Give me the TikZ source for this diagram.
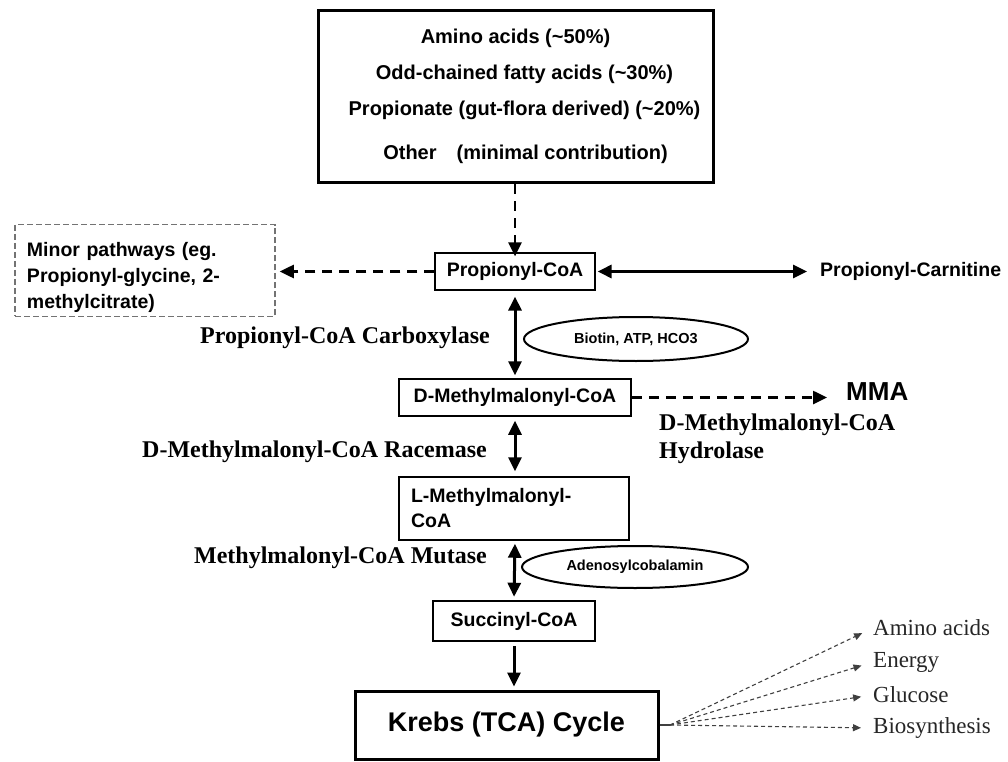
\documentclass[tikz,border=0pt]{standalone}
\usepackage{fontspec}
\setmainfont{Liberation Serif}
\setsansfont{Liberation Sans}
\usetikzlibrary{arrows.meta}
\usetikzlibrary{shapes.geometric}

\newcommand{\boxfont}{\sffamily\bfseries\fontsize{19.5}{25}\selectfont}
\newcommand{\enzfont}{\rmfamily\bfseries\fontsize{24}{28}\selectfont}

\begin{document}
\begin{tikzpicture}[x=1pt, y=-1pt, >={Triangle[length=14pt, width=13pt]},
        pbox/.style={draw, line width=1.5pt, font=\boxfont, inner sep=0pt,
            minimum height=37pt},
        enzyme/.style={font=\enzfont, inner sep=0pt},
        cofactor/.style={ellipse, draw, line width=2pt, inner sep=0pt,
            font=\sffamily\bfseries\fontsize{14.5}{17}\selectfont},
        mainarrow/.style={line width=3pt},
        dasharrow/.style={line width=2.5pt, dash pattern=on 10pt off 7pt},
        fanarrow/.style={->, line width=1.1pt, draw=black!75,
            dash pattern=on 4pt off 3pt, >={Triangle[length=8pt, width=7pt]}},
        product/.style={font=\rmfamily\fontsize{23}{27}\selectfont, text=black!85,
            anchor=west, inner sep=0pt}]
    \useasboundingbox (0, 0) rectangle (1008, 762);

    % sources of propionyl-CoA
    \node[draw, line width=3pt, font=\sffamily\bfseries\fontsize{20}{24}\selectfont,
        align=center, minimum width=395pt, minimum height=172pt] (sources) at (515.5, 96.5)
        {Amino acids (\textasciitilde50\%)\\[12pt]
         \hspace*{18pt}Odd-chained fatty acids (\textasciitilde30\%)\\[12pt]
         \hspace*{18pt}Propionate (gut-flora derived) (\textasciitilde20\%)\\[20pt]
         \hspace*{20pt}Other\quad(minimal contribution)};

    \node[pbox, line width=1.2pt, minimum width=160pt] (propcoa) at (515, 271.5) {Propionyl-CoA};
    \node[draw=black!55, line width=1.5pt, dash pattern=on 6pt off 3pt,
        font=\sffamily\bfseries\fontsize{19.5}{26}\selectfont,
        align=left, text width=236pt, inner xsep=12pt, minimum height=89pt]
        (minor) at (145, 270.5)
        {\rule{0pt}{29pt}Minor pathways (eg.\\Propionyl-glycine, 2-\\methylcitrate)};
    \node[font=\boxfont, anchor=west, inner sep=0pt] (carnitine) at (820, 271.5) {Propionyl-Carnitine};

    \node[pbox, minimum width=232pt] (dmm) at (515, 397.5) {D-Methylmalonyl-CoA};
    \node[font=\sffamily\bfseries\fontsize{26}{30}\selectfont, anchor=west, inner sep=0pt]
        (mma) at (846, 392) {MMA};
    \node[enzyme, anchor=west, align=left] (hydrolase) at (659, 439)
        {D-Methylmalonyl-CoA\\Hydrolase};

    \node[pbox, font=\sffamily\bfseries\fontsize{19.5}{25}\selectfont, align=left,
        text width=206pt, inner xsep=12pt, minimum height=63pt]
        (lmm) at (514, 508.5) {L-Methylmalonyl-\\CoA};
    \node[pbox, line width=2.5pt, minimum width=162pt, minimum height=40pt]
        (succ) at (514, 621) {Succinyl-CoA};
    \node[draw, line width=3pt, font=\sffamily\bfseries\fontsize{27}{31}\selectfont,
        minimum width=303pt, minimum height=68pt] (krebs) at (506.5, 725) {Krebs (TCA) Cycle};

    % enzymes and cofactors
    \node[enzyme, anchor=east] (carbox) at (490, 338) {Propionyl-CoA Carboxylase};
    \node[enzyme, anchor=east] (racemase) at (487, 452) {D-Methylmalonyl-CoA Racemase};
    \node[enzyme, anchor=east] (mutase) at (487, 558) {Methylmalonyl-CoA Mutase};
    \node[cofactor, minimum width=224pt, minimum height=44pt] (biotin) at (636, 339) {Biotin, ATP, HCO3};
    \node[cofactor, minimum width=226pt, minimum height=42pt] (adenosyl) at (635, 567) {Adenosylcobalamin};

    % fates of the TCA cycle
    \node[product] (aa) at (873, 628) {Amino acids};
    \node[product] (energy) at (873, 662) {Energy};
    \node[product] (glucose) at (873, 695) {Glucose};
    \node[product] (biosyn) at (873, 728) {Biosynthesis};
    \coordinate (hub) at (670, 725);

    \draw[->, dasharrow] (sources.south -| propcoa.north) -- ([yshift=-4pt]propcoa.north);
    \draw[->, dasharrow] (propcoa.west) -- ([xshift=4pt]minor.east |- propcoa.west);
    \draw[<->, mainarrow, shorten >=13pt, shorten <=2pt] (propcoa.east) -- (carnitine.west);
    \draw[<->, mainarrow, shorten <=6pt, shorten >=3pt] (propcoa.south) -- (propcoa.south |- dmm.north);
    \draw[->, dasharrow, shorten >=19pt] (dmm.east) -- (dmm.east -| mma.west);
    \draw[<->, mainarrow, shorten <=4pt, shorten >=5pt] (dmm.south) -- (dmm.south |- lmm.north);
    \draw[<->, mainarrow, shorten <=3pt, shorten >=3pt] (dmm.south |- lmm.south) -- (succ.north);
    \draw[->, mainarrow, shorten <=4pt, shorten >=3pt] (succ.south) -- (succ.south |- krebs.north);

    \draw[line width=1.1pt, draw=black!75] (krebs.east) -- (hub);
    \foreach \fate in {aa, energy, glucose, biosyn}
        \draw[fanarrow, shorten >=12pt] (hub) -- (\fate.west);
\end{tikzpicture}
\end{document}
